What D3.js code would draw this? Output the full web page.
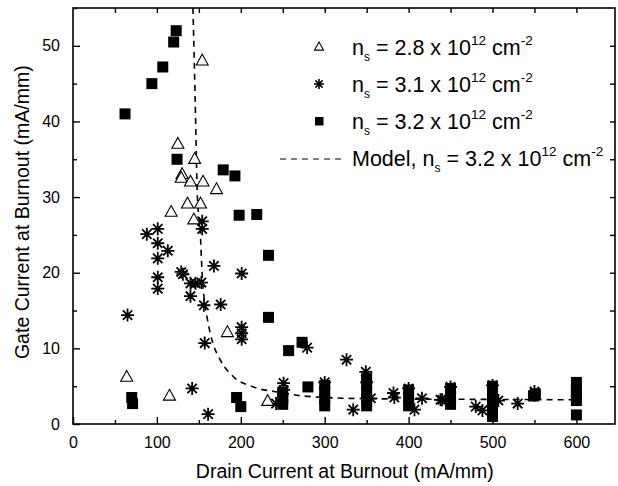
<!DOCTYPE html>
<html>
<head>
<meta charset="utf-8">
<script src="https://cdn.jsdelivr.net/npm/d3@7"></script>
<style>
  body { margin: 0; background: #fff; }
  text { font-family: "Liberation Sans", Arial, Helvetica, sans-serif; fill: #000; }
</style>
</head>
<body>
<div id="chart"></div>
<script>
// data (x = drain current, y = gate current, mA/mm)
var triX = [154, 125, 145, 130, 129, 140, 155, 171, 117, 136.5, 152, 144, 184, 64, 115, 232];
var triY = [48, 37, 35, 33, 32.5, 32, 32, 31, 28, 29.1, 29.1, 27, 12.1, 6.2, 3.7, 3];

var starX = [88, 101, 101, 113, 101, 154, 154, 168, 129, 131, 201, 101, 101, 140, 146, 153, 140, 156, 176, 65,
    201, 201, 201, 157, 142, 161, 279, 326, 251, 251, 242, 300, 349, 350, 355, 334, 382, 383, 400, 407,
    416, 438, 440, 480, 488, 507, 530, 550, 550, 500, 450];
var starY = [25.1, 25.8, 23.9, 22.9, 21.9, 26.8, 25.8, 20.9, 20.1, 19.8, 19.9, 19.4, 17.9, 18.6, 18.6, 18.7, 16.9, 15.7, 15.8, 14.4,
    12.8, 12.0, 11.2, 10.7, 4.7, 1.3, 10.1, 8.5, 5.4, 4.5, 2.7, 5.5, 6.9, 5.5, 3.4, 1.9, 4.1, 3.5, 4.7, 1.9,
    3.4, 3.2, 3.2, 2.3, 1.8, 3.1, 2.7, 3.8, 4.3, 5.1, 4.9];

var sqX = [123, 120, 107, 94, 62, 124, 179, 193, 198, 219, 233, 233, 257, 273, 280, 70, 71, 195, 200,
    250, 250, 250, 300, 300, 300, 300, 350, 350, 350, 350, 350, 400, 400, 400,
    450, 450, 450, 500, 500, 500, 500, 500, 549, 551, 600, 600, 600, 600, 600];
var sqY = [52, 50.5, 47.2, 45, 41, 35, 33.6, 32.8, 27.6, 27.7, 22.3, 14.1, 9.7, 10.8, 4.9, 3.5, 2.7, 3.5, 2.3,
    2.6, 3.4, 4.2, 2.4, 3.3, 4.2, 5.1, 2.4, 3.3, 4.2, 5.1, 6.0, 2.4, 3.4, 4.5,
    2.6, 3.6, 4.7, 1.0, 2.0, 3.0, 4.0, 5.0, 3.7, 4.0, 3.1, 3.9, 4.5, 5.5, 1.2];

var modelX = [143, 145.6, 148.4, 150, 151.6, 153, 154.4, 157, 160.3, 164, 168.2, 174, 180.2, 188, 196, 210, 220, 240, 267, 300, 350, 400, 500, 600];
var modelY = [55, 42.9, 29.6, 27.5, 25.7, 22, 19, 16, 13.8, 11.8, 10.2, 8.8, 7.6, 6.6, 5.8, 5.1, 4.7, 4.3, 3.8, 3.5, 3.35, 3.3, 3.25, 3.2];

var legendVals = ["2.8", "3.1", "3.2"];

var svgWidth = 618;
var svgHeight = 486;
var margin = { top: 8, right: 3, bottom: 62, left: 73 };
var width = svgWidth - margin.left - margin.right;
var height = svgHeight - margin.top - margin.bottom;

var svg = d3.select("#chart").append("svg")
    .attr("width", svgWidth)
    .attr("height", svgHeight);

var chartGroup = svg.append("g")
    .attr("transform", `translate(${margin.left}, ${margin.top})`);

var xScale = d3.scaleLinear().domain([0, 646]).range([0, width]);
var yScale = d3.scaleLinear().domain([0, 55]).range([height, 0]);

// markers
function trianglePath(s) {
    var h = s * 0.9;
    return `M0,${-h * 0.62}L${s / 2},${h * 0.38}L${-s / 2},${h * 0.38}Z`;
}
function starPath(s) {
    var r = s / 2, d = r * 0.72;
    return `M${-r},0L${r},0M0,${-r}L0,${r}M${-d},${-d}L${d},${d}M${-d},${d}L${d},${-d}`;
}

var clip = svg.append("clipPath").attr("id", "plotclip")
    .append("rect").attr("width", width).attr("height", height);

// model curve
var modelData = modelX.map((x, i) => [x, modelY[i]]);
chartGroup.append("path")
    .datum(modelData)
    .attr("clip-path", "url(#plotclip)")
    .attr("fill", "none")
    .attr("stroke", "#000")
    .attr("stroke-width", 1.6)
    .attr("stroke-dasharray", "6,5")
    .attr("d", d3.line().x(d => xScale(d[0])).y(d => yScale(d[1])).curve(d3.curveMonotoneX));

// squares
chartGroup.append("g").selectAll("rect")
    .data(sqX.map((x, i) => [x, sqY[i]]))
    .enter()
    .append("rect")
    .attr("x", d => xScale(d[0]) - 5.5)
    .attr("y", d => yScale(d[1]) - 5.5)
    .attr("width", 11)
    .attr("height", 11)
    .attr("fill", "#000");

// stars
chartGroup.append("g").selectAll("path")
    .data(starX.map((x, i) => [x, starY[i]]))
    .enter()
    .append("path")
    .attr("transform", d => `translate(${xScale(d[0])}, ${yScale(d[1])})`)
    .attr("d", starPath(13))
    .attr("fill", "none")
    .attr("stroke", "#000")
    .attr("stroke-width", 1.8);

// triangles
chartGroup.append("g").selectAll("path")
    .data(triX.map((x, i) => [x, triY[i]]))
    .enter()
    .append("path")
    .attr("transform", d => `translate(${xScale(d[0])}, ${yScale(d[1])})`)
    .attr("d", trianglePath(12))
    .attr("fill", "#fff")
    .attr("stroke", "#000")
    .attr("stroke-width", 1.1);

// axes: ticks point inward
var bottomAxis = d3.axisBottom(xScale).tickValues(d3.range(0, 601, 100)).tickSizeInner(-7).tickSizeOuter(0).tickPadding(13);
var bottomMinor = d3.axisBottom(xScale).tickValues(d3.range(50, 601, 100)).tickSizeInner(-4).tickSizeOuter(0).tickFormat("");
var topAxis = d3.axisTop(xScale).tickValues(d3.range(50, 601, 50)).tickSizeInner(-5).tickSizeOuter(0).tickFormat("");
var leftAxis = d3.axisLeft(yScale).tickValues(d3.range(0, 51, 10)).tickSizeInner(-7).tickSizeOuter(0).tickPadding(13);
var leftMinor = d3.axisLeft(yScale).tickValues(d3.range(5, 56, 10)).tickSizeInner(-4).tickSizeOuter(0).tickFormat("");
var rightAxis = d3.axisRight(yScale).tickValues(d3.range(5, 51, 5)).tickSizeInner(-5).tickSizeOuter(0).tickFormat("");

function styleAxis(g) {
    g.selectAll("path.domain").remove();
    g.selectAll("line").attr("stroke", "#000").attr("stroke-width", 1.4);
    g.selectAll("text").style("font-size", "16px").attr("fill", "#000");
    g.attr("font-family", null);
}

chartGroup.append("g").attr("transform", `translate(0, ${height})`).call(bottomAxis).call(styleAxis);
chartGroup.append("g").attr("transform", `translate(0, ${height})`).call(bottomMinor).call(styleAxis);
chartGroup.append("g").call(topAxis).call(styleAxis);
chartGroup.append("g").call(leftAxis).call(styleAxis);
chartGroup.append("g").call(leftMinor).call(styleAxis);
chartGroup.append("g").attr("transform", `translate(${width}, 0)`).call(rightAxis).call(styleAxis);

// frame
chartGroup.append("rect")
    .attr("width", width)
    .attr("height", height)
    .attr("fill", "none")
    .attr("stroke", "#000")
    .attr("stroke-width", 1.6);

// axis titles
svg.append("text")
    .attr("x", margin.left + xScale(324))
    .attr("y", 478)
    .attr("text-anchor", "middle")
    .style("font-size", "19.5px")
    .text("Drain Current at Burnout (mA/mm)");

svg.append("text")
    .attr("transform", `translate(29, ${margin.top + yScale(28)}) rotate(-90)`)
    .attr("text-anchor", "middle")
    .style("font-size", "19.5px")
    .text("Gate Current at Burnout (mA/mm)");

// legend
var legend = svg.append("g");
var rowY = [55, 92, 129, 166];

function nsText(sel, value, prefix) {
    var t = sel.append("text").style("font-size", "21.5px");
    if (prefix) t.append("tspan").text(prefix);
    t.append("tspan").text("n");
    t.append("tspan").attr("dy", 6).style("font-size", "12px").text("s");
    t.append("tspan").attr("dy", -6).text(" = " + value + " x 10");
    t.append("tspan").attr("dy", -10).style("font-size", "13.5px").text("12");
    t.append("tspan").attr("dy", 10).text(" cm");
    t.append("tspan").attr("dy", -10).style("font-size", "13.5px").text("-2");
    return t;
}

legendVals.forEach(function(v, i) {
    var row = legend.append("g");
    nsText(row, v).attr("x", 352).attr("y", rowY[i]);
    var cy = rowY[i] - 8;
    if (i === 0) {
        row.append("path").attr("transform", `translate(319, ${cy})`).attr("d", trianglePath(9))
            .attr("fill", "#fff").attr("stroke", "#000").attr("stroke-width", 1.1);
    } else if (i === 1) {
        row.append("path").attr("transform", `translate(319, ${cy})`).attr("d", starPath(10))
            .attr("fill", "none").attr("stroke", "#000").attr("stroke-width", 1.6);
    } else {
        row.append("rect").attr("x", 315).attr("y", cy - 4).attr("width", 8.5).attr("height", 8.5).attr("fill", "#000");
    }
});

legend.append("line")
    .attr("x1", 280).attr("x2", 346)
    .attr("y1", rowY[3] - 7).attr("y2", rowY[3] - 7)
    .attr("stroke", "#000").attr("stroke-width", 1.2)
    .attr("stroke-dasharray", "6,5");
nsText(legend, "3.2", "Model, ").attr("x", 352).attr("y", rowY[3]);
</script>
</body>
</html>
